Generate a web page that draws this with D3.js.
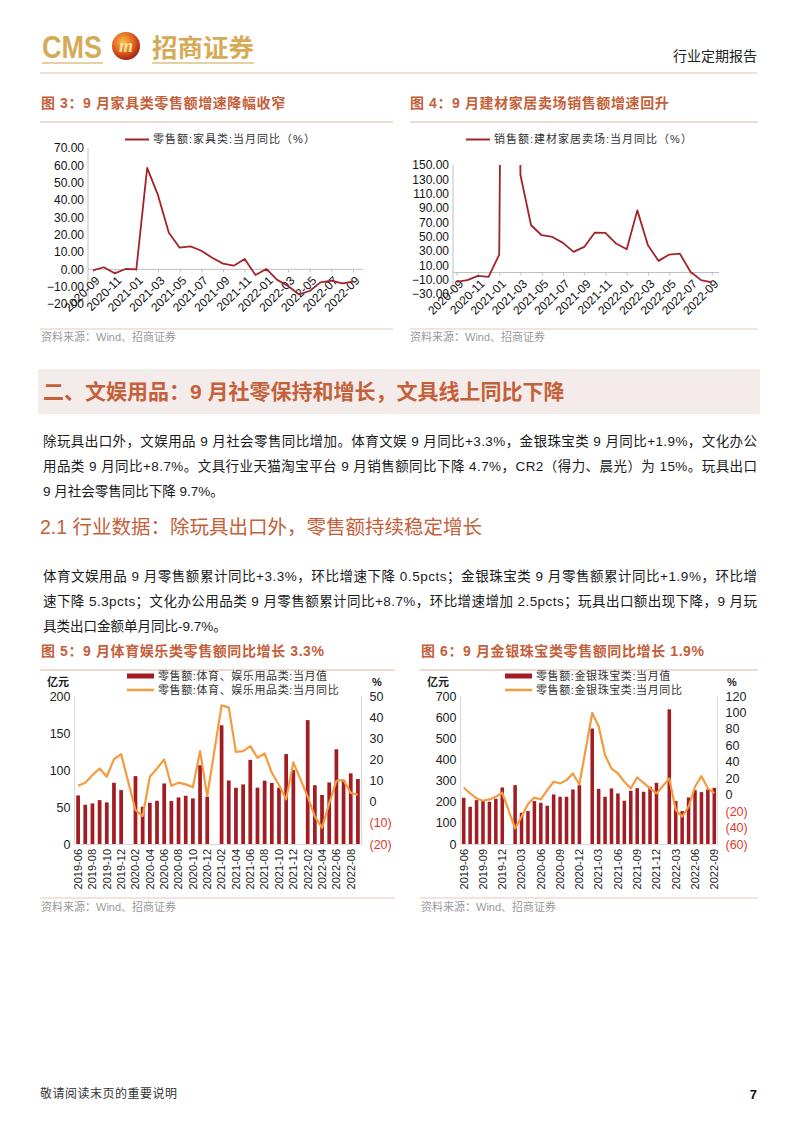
<!DOCTYPE html>
<html><head><meta charset="utf-8">
<script src="https://cdn.jsdelivr.net/npm/d3@7"></script>
<style>
body{margin:0;background:#fff;}
svg{display:block;}
</style></head>
<body><script>
// ---------- DATA ----------
const months3 = ["2020-09","2020-10","2020-11","2020-12","2021-01","2021-02","2021-03","2021-04","2021-05","2021-06","2021-07","2021-08","2021-09","2021-10","2021-11","2021-12","2022-01","2022-02","2022-03","2022-04","2022-05","2022-06","2022-07","2022-08","2022-09"];
const furnitureYoY = [-0.6,1.2,-2.3,0.2,0.0,58.5,42.8,21.1,12.5,13.2,10.7,6.7,3.3,2.1,6.0,-3.3,0.2,-6.1,-9.6,-14.4,-12.5,-7.5,-6.5,-8.1,-7.1];
const buildingYoY = [-13.0,-10.7,-4.6,-6.0,25.0,1800,136.0,65.9,52.0,49.6,41.3,28.8,35.7,55.7,55.2,40.4,32.5,86.7,38.0,16.2,25.0,26.4,1.0,-10.7,-13.9];
const fig3Ticks = [70,60,50,40,30,20,10,0,-10,-20];
const fig4Ticks = [150,130,110,90,70,50,30,10,-10,-30];

const months5 = ["2019-06","2019-07","2019-08","2019-09","2019-10","2019-11","2019-12","2020-01","2020-02","2020-03","2020-04","2020-05","2020-06","2020-07","2020-08","2020-09","2020-10","2020-11","2020-12","2021-01","2021-02","2021-03","2021-04","2021-05","2021-06","2021-07","2021-08","2021-09","2021-10","2021-11","2021-12","2022-01","2022-02","2022-03","2022-04","2022-05","2022-06","2022-07","2022-08","2022-09"];
const sportsValue = [65.6,53,54.8,59.3,56.2,82.7,72.8,null,91.7,50.3,55.7,58.4,81.8,58,62.9,65.2,61.6,106.5,63.8,null,160.4,85.8,76,80.5,113.7,76.2,85.5,82.5,76,121.5,99.9,null,167.4,79.4,66.3,83.2,128,86.4,95.5,87.8];
const sportsYoY = [7.5,9,12.6,15.7,11.8,20.1,22.5,null,-3.9,-6.8,11.8,15.7,20,7.5,9,8.2,6.8,23.9,2.7,null,45.6,44.5,23.6,23.9,26.3,20.8,22.8,13.7,7.9,1.1,18.6,null,2.4,-7.1,-12.3,-0.8,9.9,10.2,4.2,3.3];
const jewelryValue = [218.7,176,207.6,207.6,199.8,214,267.4,null,278.4,147.9,155.7,203,195,181,234.4,223.4,223.4,258,278.4,null,546,261,223.4,262.7,239,204.5,251.7,264.3,247,270.6,289.4,null,637,203,155.7,220,254.8,245.4,258,265.8];
const jewelryYoY = [8.8,1.5,-4.6,-7.4,-5.8,-2.5,2.3,null,-41,-26.8,-11.4,-3.4,-5.8,5.5,15.7,13.6,17.7,25.8,12.4,null,99.4,83.2,48,31.8,25.8,15.7,7.6,20.9,14.4,7.6,1.5,null,19.7,-18.7,-26.8,-14.7,9.6,22.6,7.6,1.9];
const fig5LeftTicks = [0,50,100,150,200];
const fig5RightTicks = [-20,-10,0,10,20,30,40,50];
const fig6LeftTicks = [0,100,200,300,400,500,600,700];
const fig6RightTicks = [-60,-40,-20,0,20,40,60,80,100,120];

// ---------- STYLE ----------
const CJK = "'Liberation Sans','Noto Sans CJK SC',sans-serif";
const TITLE_C = "#c4603a";
const BAR_C = "#a31c22";
const LINE_C = "#f39b3f";
const DARKRED = "#a3232b";

const svg = d3.select("body").append("svg").attr("width",802).attr("height",1133);
svg.append("rect").attr("width",802).attr("height",1133).attr("fill","#fff");

function txt(g,x,y,s,o={}){
  const t = g.append("text").attr("x",x).attr("y",y).attr("dy","0.35em")
    .attr("font-family",o.ff||CJK).attr("font-size",o.fs||12)
    .attr("fill",o.fill||"#222").attr("text-anchor",o.anchor||"start")
    .text(s);
  if(o.fw) t.attr("font-weight",o.fw);
  if(o.tl){ t.attr("textLength",o.tl).attr("lengthAdjust","spacing"); }
  if(o.ls) t.attr("letter-spacing",o.ls);
  return t;
}
function hline(g,x1,x2,y,c,w){ g.append("line").attr("x1",x1).attr("x2",x2).attr("y1",y).attr("y2",y).attr("stroke",c).attr("stroke-width",w||1); }

// ---------- HEADER ----------
const defs = svg.append("defs");
const rg = defs.append("radialGradient").attr("id","logoG").attr("cx","40%").attr("cy","35%").attr("r","70%");
rg.append("stop").attr("offset","0%").attr("stop-color","#f7c04a");
rg.append("stop").attr("offset","55%").attr("stop-color","#e0601f");
rg.append("stop").attr("offset","100%").attr("stop-color","#9e1b12");
svg.append("text").attr("x",42).attr("y",58).attr("font-family","'Liberation Sans Narrow','Liberation Sans',sans-serif")
  .attr("font-size",31).attr("font-weight","bold").attr("fill","#d6ab58").attr("textLength",60).attr("lengthAdjust","spacingAndGlyphs").text("CMS");
svg.append("circle").attr("cx",126).attr("cy",46).attr("r",14).attr("fill","url(#logoG)");
svg.append("text").attr("x",126).attr("y",52).attr("text-anchor","middle").attr("font-family","'Liberation Serif',serif")
  .attr("font-style","italic").attr("font-weight","bold").attr("font-size",18).attr("fill","#fbe39a").text("m");
svg.append("text").attr("x",152).attr("y",57).attr("font-family","'Noto Sans CJK SC',sans-serif").attr("font-weight","bold")
  .attr("font-size",25).attr("fill","#d6ab58").attr("textLength",102).attr("lengthAdjust","spacingAndGlyphs").text("招商证券");
hline(svg,42,103,63,"#dcbf86",1.5);
hline(svg,152,254,63,"#dcbf86",1.5);
txt(svg,757,56,"行业定期报告",{fs:14,anchor:"end",fill:"#222"});
hline(svg,40,757,73,"#d9c4ad",1);

// ---------- LINE CHART (figs 3, 4) ----------
function lineChart(o){
  const g = svg.append("g");
  txt(g,o.tx,103,o.title,{fs:14,fw:"bold",fill:TITLE_C,ls:0.6});
  hline(g,o.lx1,o.lx2,122,"#dcb5a2",1);
  g.append("line").attr("x1",o.legX).attr("x2",o.legX+24).attr("y1",139.5).attr("y2",139.5).attr("stroke",DARKRED).attr("stroke-width",2);
  txt(g,o.legX+28,139.5,o.legend,{fs:11,fill:"#333",ls:1});
  const x = d3.scalePoint().domain(o.months).range(o.xr);
  const y = d3.scaleLinear().domain(o.yd).range(o.yr);
  g.append("line").attr("x1",o.ax).attr("x2",o.ax).attr("y1",o.yr[1]).attr("y2",o.yr[0]).attr("stroke","#bfbfbf");
  const ya = g.append("g").attr("transform",`translate(${o.ax},0)`)
    .call(d3.axisLeft(y).tickValues(o.ticks).tickSize(0).tickPadding(4).tickFormat(d3.format(".2f")));
  ya.select(".domain").remove();
  ya.selectAll("text").attr("font-family","'Liberation Sans',sans-serif").attr("font-size",12).attr("fill","#111");
  const xa = g.append("g").attr("transform",`translate(0,${y(0)})`)
    .call(d3.axisBottom(x).tickValues(o.months.filter((d,i)=>i%2===0)).tickSize(3).tickSizeOuter(0));
  xa.select(".domain").attr("d",`M${o.ax},0H${o.axEnd}`).attr("stroke","#bfbfbf");
  xa.selectAll(".tick line").attr("stroke","#bfbfbf");
  xa.selectAll("text").attr("font-family","'Liberation Sans',sans-serif").attr("font-size",12).attr("fill","#111")
    .attr("text-anchor","end").attr("y",0).attr("dy","0.35em").attr("transform","translate(4,9) rotate(-45)");
  const cid = "clip"+o.id;
  defs.append("clipPath").attr("id",cid).append("rect").attr("x",o.ax).attr("y",o.yr[1]).attr("width",o.axEnd-o.ax).attr("height",o.yr[0]-o.yr[1]+5);
  g.append("path").datum(o.values).attr("clip-path",`url(#${cid})`)
    .attr("d",d3.line().x((d,i)=>x(o.months[i])).y(d=>y(d)))
    .attr("fill","none").attr("stroke",DARKRED).attr("stroke-width",1.8).attr("stroke-linejoin","round");
  hline(g,o.lx1,o.lx2,329,"#e3c8bb",1);
  txt(g,o.tx,337,"资料来源：Wind、招商证券",{fs:11,fill:"#9a9a9a"});
}
lineChart({id:3,tx:41,lx1:40,lx2:393,title:"图 3：9 月家具类零售额增速降幅收窄",legX:125,legend:"零售额:家具类:当月同比（%）",
  months:months3,values:furnitureYoY,xr:[93,353],yd:[-20,70],yr:[304,148],ticks:fig3Ticks,ax:88,axEnd:363});
lineChart({id:4,tx:410,lx1:410,lx2:758,title:"图 4：9 月建材家居卖场销售额增速回升",legX:466,legend:"销售额:建材家居卖场:当月同比（%）",
  months:months3,values:buildingYoY,xr:[456.7,711.7],yd:[-30,150],yr:[294,165],ticks:fig4Ticks,ax:453,axEnd:719});

// ---------- TEXT SECTION ----------
svg.append("rect").attr("x",38).attr("y",369).attr("width",722).attr("height",45).attr("fill","#f3ecea");
txt(svg,43,392,"二、文娱用品：9 月社零保持和增长，文具线上同比下降",{fs:21,fw:"bold",fill:TITLE_C});
const para1 = ["除玩具出口外，文娱用品 9 月社会零售同比增加。体育文娱 9 月同比+3.3%，金银珠宝类 9 月同比+1.9%，文化办公",
  "用品类 9 月同比+8.7%。文具行业天猫淘宝平台 9 月销售额同比下降 4.7%，CR2（得力、晨光）为 15%。玩具出口",
  "9 月社会零售同比下降 9.7%。"];
para1.forEach((s,i)=>txt(svg,43,441+i*25,s,{fs:13.5,fill:"#1a1a1a",tl:i<2?714:null}));
txt(svg,40,527,"2.1 行业数据：除玩具出口外，零售额持续稳定增长",{fs:19.5,fill:TITLE_C});
const para2 = ["体育文娱用品 9 月零售额累计同比+3.3%，环比增速下降 0.5pcts；金银珠宝类 9 月零售额累计同比+1.9%，环比增",
  "速下降 5.3pcts；文化办公用品类 9 月零售额累计同比+8.7%，环比增速增加 2.5pcts；玩具出口额出现下降，9 月玩",
  "具类出口金额单月同比-9.7%。"];
para2.forEach((s,i)=>txt(svg,43,576+i*25,s,{fs:13.5,fill:"#1a1a1a",tl:i<2?714:null}));

// ---------- COMBO CHART (figs 5, 6) ----------
function comboChart(o){
  const g = svg.append("g");
  txt(g,o.tx,651,o.title,{fs:14,fw:"bold",fill:TITLE_C,ls:0.6});
  hline(g,o.lx1,o.lx2,670,"#dcb5a2",1);
  g.append("rect").attr("x",o.legX).attr("y",673.5).attr("width",27).attr("height",5).attr("fill",BAR_C);
  txt(g,o.legX+31,676,o.leg1,{fs:11,fill:"#333",ls:0.6});
  g.append("line").attr("x1",o.legX).attr("x2",o.legX+27).attr("y1",690).attr("y2",690).attr("stroke",LINE_C).attr("stroke-width",2.5);
  txt(g,o.legX+31,690,o.leg2,{fs:11,fill:"#333",ls:0.6});
  txt(g,o.unitX,682,"亿元",{fs:11,fw:"bold",fill:"#222"});
  txt(g,o.pctX,682,"%",{fs:11,fw:"bold",fill:"#222"});
  const x = d3.scaleBand().domain(o.months).range([o.ax,o.rx]).paddingInner(o.pad).paddingOuter(o.pad/2);
  const yl = d3.scaleLinear().domain(o.ld).range([844,696]);
  const yr = d3.scaleLinear().domain(o.rd).range([844,696]);
  g.append("line").attr("x1",o.ax).attr("x2",o.ax).attr("y1",696).attr("y2",844).attr("stroke","#d9d9d9");
  g.append("line").attr("x1",o.rx).attr("x2",o.rx).attr("y1",696).attr("y2",844).attr("stroke","#d9d9d9");
  const la = g.append("g").attr("transform",`translate(${o.ax-4},0)`).call(d3.axisLeft(yl).tickValues(o.lt).tickSize(0).tickPadding(0));
  la.select(".domain").remove();
  la.selectAll("text").attr("font-family","'Liberation Sans',sans-serif").attr("font-size",12.5).attr("fill","#222");
  const ra = g.append("g").attr("transform",`translate(${o.rx+8},0)`).call(d3.axisRight(yr).tickValues(o.rt).tickSize(0).tickPadding(0)
     .tickFormat(d=>d<0?`(${-d})`:d));
  ra.select(".domain").remove();
  ra.selectAll("text").attr("font-family","'Liberation Sans',sans-serif").attr("font-size",12.5)
    .attr("fill",d=>d<0?"#e03a2e":"#222");
  const ba = g.append("g").attr("transform","translate(0,844)")
    .call(d3.axisBottom(x).tickValues(o.months.filter((d,i)=>i%o.every===0)).tickSize(0).tickSizeOuter(0));
  ba.select(".domain").attr("stroke","#d9d9d9");
  ba.selectAll("text").attr("font-family","'Liberation Sans',sans-serif").attr("font-size",11).attr("fill","#222")
    .attr("text-anchor","end").attr("x",0).attr("y",0).attr("dy","0.35em").attr("transform","translate(0,5) rotate(-90)");
  g.selectAll("rect.bar").data(o.months.map((m,i)=>({m,v:o.bars[i]})).filter(d=>d.v!==null)).enter()
    .append("rect").attr("class","bar").attr("x",d=>x(d.m)).attr("width",x.bandwidth())
    .attr("y",d=>yl(d.v)).attr("height",d=>yl(0)-yl(d.v)).attr("fill",BAR_C);
  const pts = o.months.map((m,i)=>({m,v:o.line[i]})).filter(d=>d.v!==null);
  g.append("path").datum(pts).attr("d",d3.line().x(d=>x(d.m)+x.bandwidth()/2).y(d=>yr(d.v)))
    .attr("fill","none").attr("stroke",LINE_C).attr("stroke-width",2.2).attr("stroke-linejoin","round");
  hline(g,o.lx1,o.lx2,898,"#e3c8bb",1);
  txt(g,o.tx,907,"资料来源：Wind、招商证券",{fs:11,fill:"#9a9a9a"});
}
comboChart({tx:41,lx1:40,lx2:395,title:"图 5：9 月体育娱乐类零售额同比增长 3.3%",legX:127,
  leg1:"零售额:体育、娱乐用品类:当月值",leg2:"零售额:体育、娱乐用品类:当月同比",unitX:47,pctX:372,
  months:months5,bars:sportsValue,line:sportsYoY,ax:74.5,rx:361.5,pad:0.48,ld:[0,200],rd:[-20,50],
  lt:fig5LeftTicks,rt:fig5RightTicks,every:2});
comboChart({tx:421,lx1:420,lx2:758,title:"图 6：9 月金银珠宝类零售额同比增长 1.9%",legX:505,
  leg1:"零售额:金银珠宝类:当月值",leg2:"零售额:金银珠宝类:当月同比",unitX:427,pctX:727,
  months:months5,bars:jewelryValue,line:jewelryYoY,ax:460.5,rx:717.5,pad:0.45,ld:[0,700],rd:[-60,120],
  lt:fig6LeftTicks,rt:fig6RightTicks,every:3});

// ---------- FOOTER ----------
txt(svg,40,1094,"敬请阅读末页的重要说明",{fs:12,fill:"#333",ls:0.5});
txt(svg,757,1094,"7",{fs:13,fw:"bold",fill:"#111",anchor:"end",ff:"'Liberation Sans',sans-serif"});
</script></body></html>
